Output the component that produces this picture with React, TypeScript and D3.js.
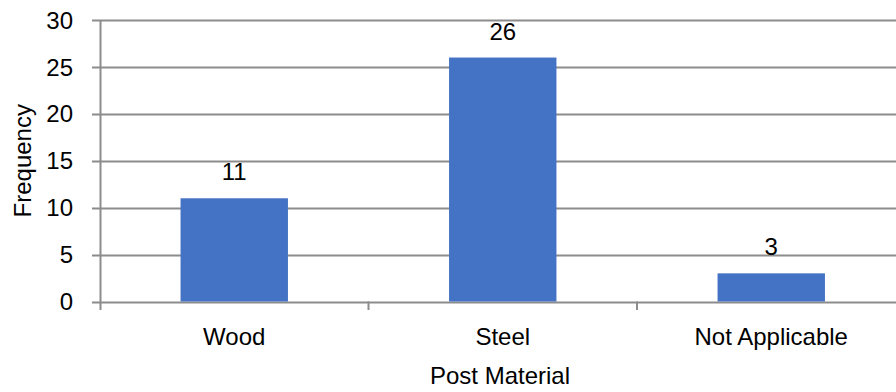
import React from "react";
import * as d3 from "d3";

const categories = ["Wood", "Steel", "Not Applicable"];
const frequencies = [11, 26, 3];
const yTicks = [0, 5, 10, 15, 20, 25, 30];

const W = 896;
const H = 392;
const FONT = "'Liberation Sans', Arial, sans-serif";
const FS = 24;

export default function App() {
  const x = d3.scaleBand<string>().domain(categories).range([100, 905.5]).padding(0);
  const y = d3.scaleLinear().domain([0, 30]).range([301.5, 20]);
  const barW = x.bandwidth() * 0.4;
  const grid = "#8c8c8c";

  return (
    <svg
      width={W}
      height={H}
      style={{ position: "absolute", left: 0, top: 0, background: "#fff" }}
      fontFamily={FONT}
    >
      {yTicks.map((t) => (
        <g key={t}>
          <line x1={92} x2={W} y1={Math.round(y(t)) + 0.5} y2={Math.round(y(t)) + 0.5} stroke={grid} strokeWidth={2} />
          <text x={73} y={y(t)} dy="0.36em" textAnchor="end" fontSize={FS} fill="#000">
            {t}
          </text>
        </g>
      ))}
      <line x1={100.5} x2={100.5} y1={y(30)} y2={310} stroke={grid} strokeWidth={2} />
      {categories.slice(1).map((c) => (
        <line key={c} x1={x(c)!} x2={x(c)!} y1={y(0)} y2={310} stroke={grid} strokeWidth={2} />
      ))}
      {categories.map((c, i) => {
        const cx = x(c)! + x.bandwidth() / 2;
        return (
          <g key={c}>
            <rect
              x={cx - barW / 2}
              y={y(frequencies[i])}
              width={barW}
              height={y(0) - y(frequencies[i])}
              fill="#4472C4"
            />
            <text x={cx} y={y(frequencies[i]) - 18} textAnchor="middle" fontSize={FS} fill="#000">
              {frequencies[i]}
            </text>
            <text x={cx} y={345} textAnchor="middle" fontSize={FS} fill="#000">
              {c}
            </text>
          </g>
        );
      })}
      <text x={500} y={384} textAnchor="middle" fontSize={FS} fill="#000">
        Post Material
      </text>
      <text
        transform={`translate(31,${(y(0) + y(30)) / 2}) rotate(-90)`}
        textAnchor="middle"
        fontSize={FS}
        fill="#000"
      >
        Frequency
      </text>
    </svg>
  );
}
